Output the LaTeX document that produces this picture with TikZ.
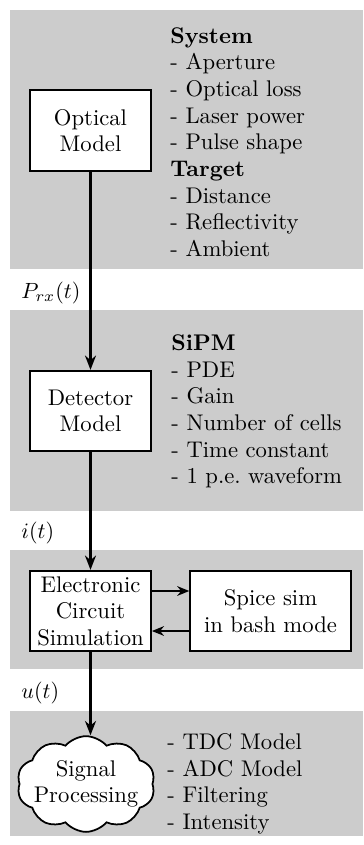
\documentclass[tikz,border=0pt]{standalone}
\usetikzlibrary{shapes.symbols,arrows.meta}
\definecolor{panelgray}{HTML}{CCCCCC}
\begin{document}
\begin{tikzpicture}[x=0.4545pt,y=-0.4545pt,
  every node/.style={font=\fontsize{10.3}{12.1}\selectfont},
  panel/.style={fill=panelgray,draw=none},
  blockbox/.style={draw=black,line width=0.8pt,fill=white,align=center,minimum width=55pt,minimum height=36.6pt,inner sep=2pt},
  listtext/.style={align=left,inner sep=0pt,anchor=west},
  sig/.style={inner sep=0pt,anchor=west},
  flow/.style={line width=1.1pt,-{Stealth[length=6.5pt,width=5pt]}},
  side/.style={line width=0.9pt,-{Stealth[length=5.5pt,width=4.4pt]}}]
\useasboundingbox (0,0) rectangle (363,845);
% panels
\fill[panel] (10,10) rectangle (363,269);
\fill[panel] (10,310) rectangle (363,511);
\fill[panel] (10,550) rectangle (363,669);
\fill[panel] (10,711) rectangle (363,836);
% blocks
\node[blockbox] (opt) at (90.5,130.5) {Optical\\Model};
\node[blockbox] (det) at (90.5,411) {Detector\\Model};
\node[blockbox] (ele) at (90.5,611) {Electronic\\Circuit\\Simulation};
\node[blockbox,minimum width=73pt] (spi) at (270.5,611) {Spice sim\\in bash mode};
\node[cloud,draw=black,line width=0.8pt,fill=white,cloud puffs=10,cloud puff arc=100,aspect=1.65,align=center,inner xsep=-2.4pt,inner ysep=-2.3pt] (sp) at (86,784) {Signal\\Processing};
% lists
\node[listtext] (l1) at (170,142) {\textbf{System}\\- Aperture\\- Optical loss\\- Laser power\\- Pulse shape\\\textbf{Target}\\- Distance\\- Reflectivity\\- Ambient};
\node[listtext] (l2) at (171,411.5) {\textbf{SiPM}\\- PDE\\- Gain\\- Number of cells\\- Time constant\\- 1 p.e.\ waveform};
\node[listtext] (l3) at (167,784) {- TDC Model\\- ADC Model\\- Filtering\\- Intensity};
% signal labels
\node[sig] (prx) at (21,293) {$P_{rx}(t)$};
\node[sig] (it) at (21,533) {$i(t)$};
\node[sig] (ut) at (21,693) {$u(t)$};
% connectors
\draw[flow] (opt.south) -- (det.north);
\draw[flow] (det.south) -- (ele.north);
\draw[flow] (ele.south) -- (ele.south |- sp.north);
\draw[side] (ele.east |- 0,591) -- (spi.west |- 0,591);
\draw[side] (spi.west |- 0,631) -- (ele.east |- 0,631);
\end{tikzpicture}
\end{document}
